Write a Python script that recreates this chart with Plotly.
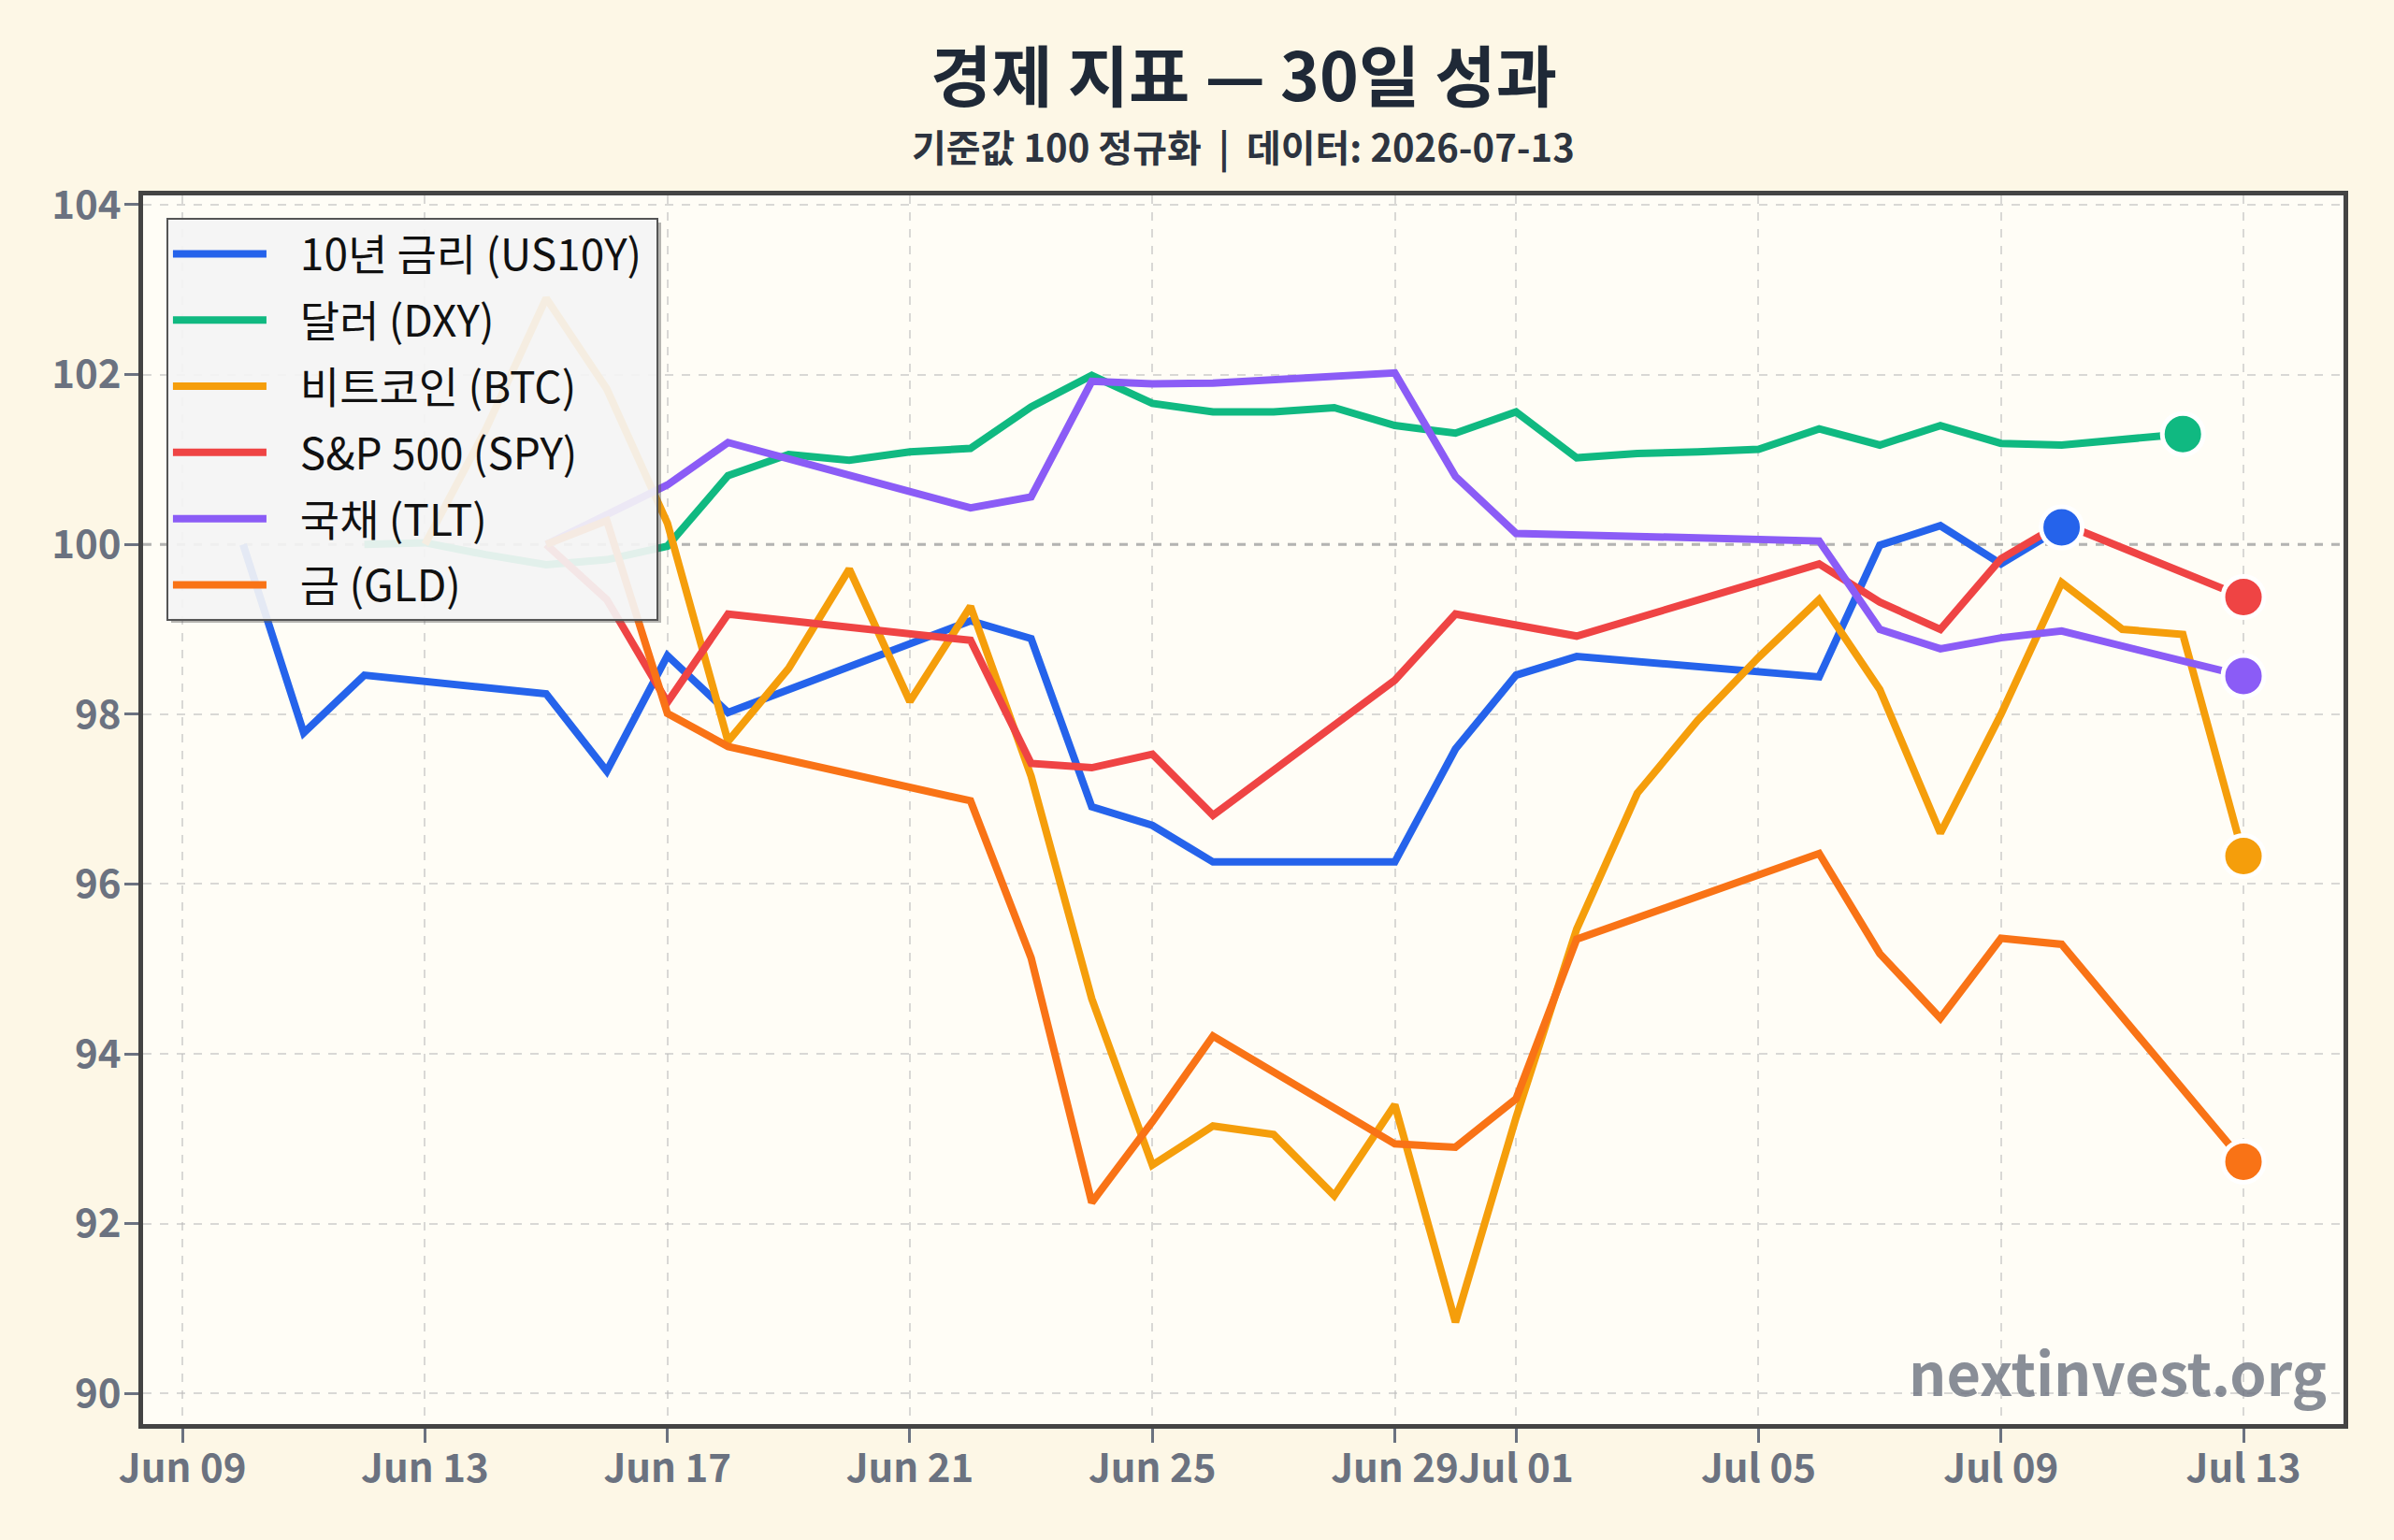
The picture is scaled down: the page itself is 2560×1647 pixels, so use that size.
import plotly.graph_objects as go

# ---------------- data (normalised to 100) ----------------
us10y_dates = ["2026-06-10", "2026-06-11", "2026-06-12", "2026-06-15", "2026-06-16", "2026-06-17",
               "2026-06-18", "2026-06-22", "2026-06-23", "2026-06-24", "2026-06-25", "2026-06-26",
               "2026-06-29", "2026-06-30", "2026-07-01", "2026-07-02", "2026-07-06", "2026-07-07",
               "2026-07-08", "2026-07-09", "2026-07-10"]
us10y_vals = [100.0, 97.78, 98.46, 98.24, 97.33, 98.69, 98.02, 99.10, 98.89, 96.91, 96.69, 96.26,
              96.26, 97.59, 98.46, 98.68, 98.44, 99.99, 100.22, 99.77, 100.20]

dxy_dates = ["2026-06-12", "2026-06-13", "2026-06-14", "2026-06-15", "2026-06-16", "2026-06-17",
             "2026-06-18", "2026-06-19", "2026-06-20", "2026-06-21", "2026-06-22", "2026-06-23",
             "2026-06-24", "2026-06-25", "2026-06-26", "2026-06-27", "2026-06-28", "2026-06-29",
             "2026-06-30", "2026-07-01", "2026-07-02", "2026-07-03", "2026-07-04", "2026-07-05",
             "2026-07-06", "2026-07-07", "2026-07-08", "2026-07-09", "2026-07-10", "2026-07-11",
             "2026-07-12"]
dxy_vals = [100.0, 100.02, 99.88, 99.76, 99.82, 99.98, 100.81, 101.06, 100.99, 101.09, 101.13, 101.62,
            101.99, 101.66, 101.56, 101.56, 101.61, 101.40, 101.31, 101.56, 101.02, 101.07, 101.09,
            101.12, 101.36, 101.17, 101.40, 101.19, 101.17, 101.23, 101.30]

btc_dates = ["2026-06-13", "2026-06-14", "2026-06-15", "2026-06-16", "2026-06-17", "2026-06-18",
             "2026-06-19", "2026-06-20", "2026-06-21", "2026-06-22", "2026-06-23", "2026-06-24",
             "2026-06-25", "2026-06-26", "2026-06-27", "2026-06-28", "2026-06-29", "2026-06-30",
             "2026-07-01", "2026-07-02", "2026-07-03", "2026-07-04", "2026-07-05", "2026-07-06",
             "2026-07-07", "2026-07-08", "2026-07-09", "2026-07-10", "2026-07-11", "2026-07-12",
             "2026-07-13"]
btc_vals = [100.0, 101.35, 102.90, 101.83, 100.25, 97.68, 98.54, 99.71, 98.15, 99.27, 97.27, 94.65,
            92.69, 93.15, 93.05, 92.33, 93.40, 90.84, 93.25, 95.47, 97.07, 97.93, 98.67, 99.35,
            98.29, 96.60, 98.00, 99.55, 99.00, 98.94, 96.33]

spy_dates = ["2026-06-15", "2026-06-16", "2026-06-17", "2026-06-18", "2026-06-22", "2026-06-23",
             "2026-06-24", "2026-06-25", "2026-06-26", "2026-06-29", "2026-06-30", "2026-07-02",
             "2026-07-06", "2026-07-07", "2026-07-08", "2026-07-09", "2026-07-10", "2026-07-13"]
spy_vals = [100.0, 99.35, 98.14, 99.18, 98.87, 97.42, 97.37, 97.53, 96.81, 98.40, 99.18, 98.92,
            99.77, 99.32, 99.00, 99.83, 100.25, 99.38]

tlt_dates = ["2026-06-15", "2026-06-16", "2026-06-17", "2026-06-18", "2026-06-22", "2026-06-23",
             "2026-06-24", "2026-06-25", "2026-06-26", "2026-06-29", "2026-06-30", "2026-07-01",
             "2026-07-06", "2026-07-07", "2026-07-08", "2026-07-09", "2026-07-10", "2026-07-13"]
tlt_vals = [100.0, 100.36, 100.70, 101.20, 100.43, 100.56, 101.92, 101.89, 101.90, 102.02, 100.80,
            100.13, 100.04, 99.00, 98.77, 98.90, 98.98, 98.45]

gld_dates = ["2026-06-15", "2026-06-16", "2026-06-17", "2026-06-18", "2026-06-22", "2026-06-23",
             "2026-06-24", "2026-06-25", "2026-06-26", "2026-06-29", "2026-06-30", "2026-07-01",
             "2026-07-02", "2026-07-06", "2026-07-07", "2026-07-08", "2026-07-09", "2026-07-10",
             "2026-07-13"]
gld_vals = [100.0, 100.28, 98.01, 97.62, 96.98, 95.13, 92.25, 93.20, 94.21, 92.94, 92.90, 93.47,
            95.35, 96.36, 95.18, 94.42, 95.36, 95.29, 92.73]

series_names = ["10년 금리 (US10Y)", "달러 (DXY)", "비트코인 (BTC)", "S&P 500 (SPY)", "국채 (TLT)", "금 (GLD)"]
series_colors = ["#2563eb", "#10b981", "#f59e0b", "#ef4444", "#8b5cf6", "#f97316"]
series_dates = [us10y_dates, dxy_dates, btc_dates, spy_dates, tlt_dates, gld_dates]
series_vals = [us10y_vals, dxy_vals, btc_vals, spy_vals, tlt_vals, gld_vals]

tick_dates = ["2026-06-09", "2026-06-13", "2026-06-17", "2026-06-21", "2026-06-25", "2026-06-29",
              "2026-07-01", "2026-07-05", "2026-07-09", "2026-07-13"]
tick_labels = ["Jun 09", "Jun 13", "Jun 17", "Jun 21", "Jun 25", "Jun 29", "Jul 01", "Jul 05",
               "Jul 09", "Jul 13"]
y_ticks = [90, 92, 94, 96, 98, 100, 102, 104]

title_text = "경제 지표 — 30일 성과"
subtitle_text = "기준값 100 정규화  |  데이터: 2026-07-13"
watermark_text = "nextinvest.org"

FONT = "Noto Sans CJK KR"
PAD = "\u00a0\u00a0\u00a0"

fig = go.Figure()
for name, d, v, c in zip(series_names, series_dates, series_vals, series_colors):
    fig.add_trace(go.Scatter(x=d, y=v, mode="lines", name=PAD + name + "\u00a0", legendgroup=name,
                             line=dict(color=c, width=8)))
for name, d, v, c in zip(series_names, series_dates, series_vals, series_colors):
    fig.add_trace(go.Scatter(x=[d[-1]], y=[v[-1]], mode="markers", showlegend=False,
                             hoverinfo="skip",
                             marker=dict(size=44, color=c, line=dict(color="white", width=5))))

fig.add_shape(type="line", xref="paper", x0=0, x1=1, yref="y", y0=100, y1=100,
              line=dict(color="rgba(140,140,140,0.7)", width=3, dash="dash"), layer="between")

# legend drop shadow (pixel box -> paper coords)
def px_x(p):
    return (p - 153) / 2353.0


def px_y(p):
    return 1 - (p - 209) / 1314.0


lg_l, lg_t, lg_r, lg_b, sh = 178, 233, 702, 661, 5
fig.add_shape(type="rect", xref="paper", yref="paper", layer="above",
              x0=px_x(lg_r), x1=px_x(lg_r + sh), y0=px_y(lg_t + sh), y1=px_y(lg_b + sh),
              line=dict(width=0), fillcolor="rgba(90,90,90,0.45)")
fig.add_shape(type="rect", xref="paper", yref="paper", layer="above",
              x0=px_x(lg_l + sh), x1=px_x(lg_r), y0=px_y(lg_b), y1=px_y(lg_b + sh),
              line=dict(width=0), fillcolor="rgba(90,90,90,0.45)")

axis_common = dict(showline=True, mirror=True, linecolor="#444444", linewidth=5,
                   ticks="outside", ticklen=15, tickwidth=3, tickcolor="#6b7280",
                   showgrid=True, gridcolor="rgba(185,185,185,0.55)", gridwidth=2,
                   griddash="dash", zeroline=False, automargin=False, tickangle=0,
                   tickfont=dict(family=FONT, size=42, color="#6b7280", weight="bold"))

fig.update_xaxes(type="date", range=["2026-06-08 08:24", "2026-07-14 15:36"],
                 tickvals=tick_dates, ticktext=tick_labels, ticklabelstandoff=-8, **axis_common)
fig.update_yaxes(range=[89.64, 104.11], tickvals=y_ticks, ticktext=[str(t) for t in y_ticks],
                 ticklabelstandoff=-5, **axis_common)

fig.add_annotation(text=title_text, xref="paper", yref="paper", x=0.5, y=1.1005,
                   xanchor="center", yanchor="middle", showarrow=False,
                   font=dict(family=FONT, size=71, color="#1f2937", weight="bold"))
fig.add_annotation(text=subtitle_text, xref="paper", yref="paper", x=0.5, y=1.0403,
                   xanchor="center", yanchor="middle", showarrow=False,
                   font=dict(family=FONT, size=40, color="#2d3440", weight="bold"))
fig.add_annotation(text=watermark_text, xref="paper", yref="paper", x=0.993, y=0.0436,
                   xanchor="right", yanchor="middle", showarrow=False,
                   font=dict(family=FONT, size=63, color="rgba(107,114,128,0.8)", weight="bold"))

fig.update_layout(
    width=2560, height=1647,
    margin=dict(l=153, r=54, t=209, b=124),
    paper_bgcolor="#fdf7e6",
    plot_bgcolor="#fffdf6",
    showlegend=True,
    legend=dict(x=0.0106, y=0.9817, xanchor="left", yanchor="top",
                bgcolor="rgba(244,244,244,0.92)", bordercolor="#555555", borderwidth=2,
                font=dict(family=FONT, size=46, color="#111111"),
                itemwidth=100, tracegroupgap=8),
    font=dict(family=FONT),
)

fig.write_html("out.html")
